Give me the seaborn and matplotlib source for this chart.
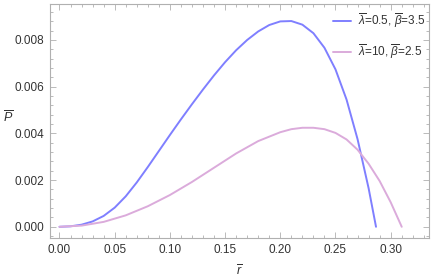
import numpy as np
import pandas as pd
import matplotlib
matplotlib.use("Agg")
import matplotlib.pyplot as plt
from matplotlib.ticker import MultipleLocator, FormatStrFormatter
import seaborn as sns

# curve 1: lambda=0.5, beta=3.5
r_blue = [0.0, 0.01, 0.02, 0.03, 0.04, 0.05, 0.06, 0.07, 0.08, 0.09, 0.10, 0.11,
          0.12, 0.13, 0.14, 0.15, 0.16, 0.17, 0.18, 0.19, 0.20, 0.21, 0.22,
          0.23, 0.24, 0.25, 0.26, 0.27, 0.28, 0.2867]
p_blue = [0.0, 0.00002, 0.00009, 0.00023, 0.000465, 0.00082, 0.001305, 0.0019,
          0.00256, 0.003245, 0.00393, 0.0046, 0.00525, 0.00588, 0.006485, 0.00705,
          0.00756, 0.0080, 0.008365, 0.00864, 0.008795, 0.00881, 0.008655, 0.00829,
          0.007665, 0.00674, 0.00545, 0.00375, 0.00165, 0.0]

# curve 2: lambda=10, beta=2.5
r_pink = [0.0, 0.02, 0.04, 0.06, 0.08, 0.10, 0.12, 0.14, 0.16, 0.18, 0.20, 0.21,
          0.22, 0.23, 0.24, 0.25, 0.26, 0.27, 0.28, 0.29, 0.30, 0.31]
p_pink = [0.0, 0.00005, 0.00021, 0.00049, 0.00088, 0.00136, 0.00192, 0.00253,
          0.00314, 0.00367, 0.00405, 0.00418, 0.00424, 0.00424, 0.00418, 0.00402,
          0.00374, 0.0033, 0.0027, 0.00196, 0.00105, 0.0]

label_blue = r'$\overline{\lambda}$=0.5, $\overline{\beta}$=3.5'
label_pink = r'$\overline{\lambda}$=10, $\overline{\beta}$=2.5'

df = pd.concat([
    pd.DataFrame({"r": r_blue, "P": p_blue, "curve": label_blue}),
    pd.DataFrame({"r": r_pink, "P": p_pink, "curve": label_pink}),
])

sns.set_style("ticks")
plt.rcParams['font.family'] = ['Liberation Sans', 'DejaVu Sans']
plt.rcParams['mathtext.fontset'] = 'custom'
plt.rcParams['mathtext.rm'] = 'Liberation Sans'
plt.rcParams['mathtext.it'] = 'Liberation Sans:italic'

fig = plt.figure(figsize=(4.36, 2.78), dpi=100)
ax = fig.add_axes([50 / 436, 1 - 238 / 278, 379 / 436, 234 / 278])

sns.lineplot(data=df, x="r", y="P", hue="curve", sort=False, estimator=None,
             palette=["#7f7fff", "#dbabdb"], linewidth=1.4, ax=ax)

ax.set_xlim(-0.0086, 0.3347)
ax.set_ylim(-0.00048, 0.00954)
ax.xaxis.set_major_locator(MultipleLocator(0.05))
ax.xaxis.set_minor_locator(MultipleLocator(0.01))
ax.yaxis.set_major_locator(MultipleLocator(0.002))
ax.yaxis.set_minor_locator(MultipleLocator(0.0004))
ax.xaxis.set_major_formatter(FormatStrFormatter('%.2f'))
ax.yaxis.set_major_formatter(FormatStrFormatter('%.3f'))

for s in ax.spines.values():
    s.set_color("#b0b0b0")
    s.set_linewidth(0.8)
ax.tick_params(which="both", direction="in", top=True, right=True,
               color="#b0b0b0", labelsize=8.5, labelcolor="#333333", width=0.6)
ax.tick_params(which="major", length=4, pad=4)
ax.tick_params(which="minor", length=2)

ax.set_xlabel(r'$\overline{r}$', fontsize=9, color="#333333", labelpad=6)
ax.set_ylabel(r'$\overline{P}$', fontsize=9, color="#333333", rotation=0)
ax.yaxis.set_label_coords(-0.11, 0.48)

ax.legend(loc="upper right", bbox_to_anchor=(1.0, 0.985), frameon=False,
          fontsize=8.5, handlelength=1.5, labelspacing=1.1, borderaxespad=0,
          borderpad=0.3, handletextpad=0.6)
for t in ax.get_legend().get_texts():
    t.set_color("#333333")

plt.savefig("out.png", dpi=100)
